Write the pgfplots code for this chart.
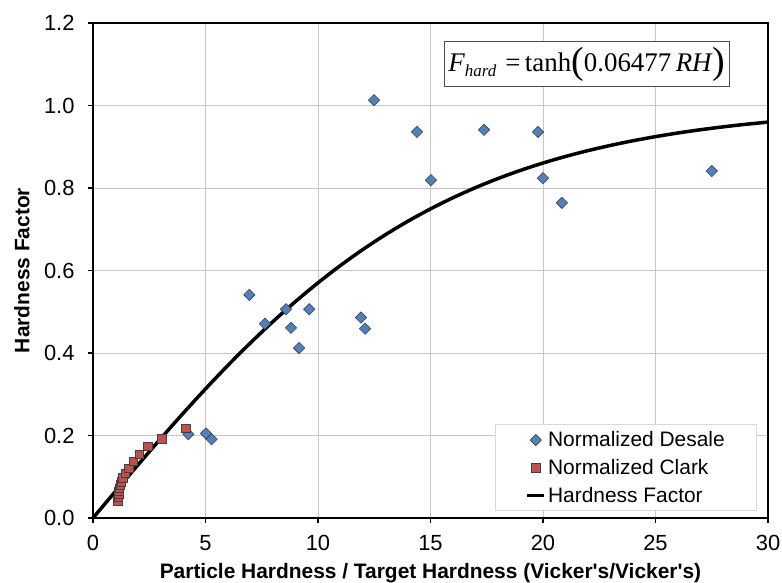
\documentclass[border=0pt]{standalone}
\usepackage{fontspec}
\setmainfont{Liberation Sans}
\newfontfamily\eqfont{Liberation Serif}
\usepackage{pgfplots}
\pgfplotsset{compat=1.18}
\definecolor{dblue}{HTML}{4F81BD}
\definecolor{dred}{HTML}{C0504D}
\begin{document}
\begin{tikzpicture}
\begin{axis}[
  scale only axis, width=675bp, height=495bp,
  xmin=0, xmax=30, ymin=0, ymax=1.2,
  xtick={0,5,10,15,20,25,30},
  ytick={0,0.2,0.4,0.6,0.8,1.0,1.2},
  yticklabel style={/pgf/number format/fixed, /pgf/number format/fixed zerofill, /pgf/number format/precision=1, xshift=-10bp},
  xticklabel style={yshift=-9bp},
  /pgf/number format/assume math mode=true,
  tick label style={font=\fontsize{22}{22}\selectfont},
  grid=major, major grid style={draw=black!22, line width=0.8bp},
  axis line style={line width=1.8bp},
  tick style={black, line width=1.3bp},
  tick align=outside, major tick length=5bp,
  xtick pos=left, ytick pos=left,
  xlabel={Particle Hardness / Target Hardness (Vicker\textquotesingle s/Vicker\textquotesingle s)},
  ylabel={Hardness Factor},
  label style={font=\bfseries\fontsize{21}{21}\selectfont},
  xlabel style={at={(rel axis cs:0.5,0)}, anchor=center, yshift=-55bp},
  ylabel style={at={(rel axis cs:0,0.5)}, anchor=center, yshift=71bp},
  clip=false,
  legend style={at={(rel axis cs:0.984,0.014)}, anchor=south east,
    font=\fontsize{21}{25}\selectfont, draw=black!15, line width=0.8bp,
    row sep=7bp, inner xsep=30bp, inner ysep=5bp},
  legend cell align=left,
]
\addplot[only marks, mark=square*, mark size=4bp,
  mark options={rotate=45, fill=dblue, draw=black!75, line width=0.6bp}]
  coordinates {
  (4.24,0.203) (5.02,0.205) (5.27,0.191) (6.95,0.541) (7.64,0.471)
  (8.58,0.506) (8.80,0.461) (9.16,0.412) (9.61,0.506) (11.91,0.486)
  (12.09,0.459) (12.49,1.013) (14.40,0.936) (15.02,0.819) (17.38,0.941)
  (19.78,0.936) (20.00,0.824) (20.84,0.764) (27.50,0.841)
  };
\addlegendentry{Normalized Desale}
\addplot[only marks, mark=square*, mark size=4.2bp,
  mark options={fill=dred, draw=black!75, line width=0.6bp}]
  coordinates {
  (1.11,0.042) (1.12,0.050) (1.14,0.057) (1.15,0.064) (1.18,0.072)
  (1.22,0.080) (1.27,0.088) (1.33,0.097) (1.44,0.108) (1.59,0.121)
  (1.78,0.137) (2.07,0.155) (2.43,0.174) (3.05,0.192) (4.12,0.218)
  };
\addlegendentry{Normalized Clark}
\addplot[black, line width=3.5bp, no marks, smooth] coordinates {
  (0,0) (1,0.06468) (2,0.12882) (3,0.19190) (4,0.25343) (5,0.31298)
  (6,0.37016) (7,0.42467) (8,0.47627) (9,0.52478) (10,0.57011)
  (11,0.61221) (12,0.65110) (13,0.68686) (14,0.71957) (15,0.74937)
  (16,0.77642) (17,0.80088) (18,0.82293) (19,0.84275) (20,0.86053)
  (21,0.87642) (22,0.89062) (23,0.90326) (24,0.91451) (25,0.92451)
  (26,0.93337) (27,0.94123) (28,0.94819) (29,0.95434) (30,0.95977)
  };
\addlegendentry{Hardness Factor}
\node[draw=black!70, line width=0.8bp, fill=white, inner xsep=4bp, inner ysep=3bp,
  minimum width=279bp, minimum height=45bp,
  font=\eqfont\fontsize{27}{27}\selectfont] at (axis cs:21.95,1.1)
  {\textit{F}\raisebox{-0.45ex}{\fontsize{17}{17}\selectfont\textit{hard}}\,\,=\,tanh\raisebox{-0.08em}{\fontsize{38}{38}\selectfont(}0.06477\,\textit{RH}\raisebox{-0.08em}{\fontsize{38}{38}\selectfont)}};
\end{axis}
\pgfresetboundingbox
\path (current axis.south west) ++(-93bp,-65bp);
\path (current axis.north east) ++(14bp,23bp);
\end{tikzpicture}
\end{document}
